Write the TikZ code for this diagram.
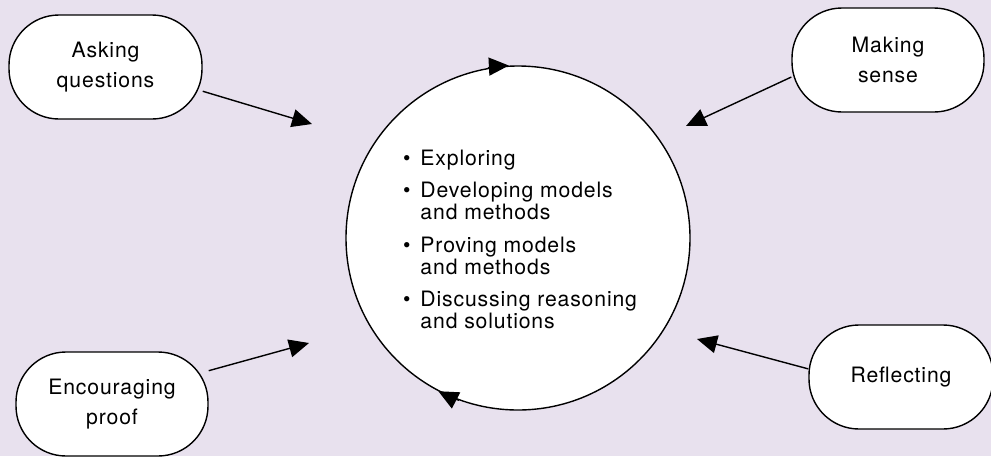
\documentclass[tikz,border=0pt]{standalone}
\usepackage{fontspec}
\setmainfont{TeX Gyre Heros}[LetterSpace = 4]
\usepackage{xcolor}
\usetikzlibrary{calc, arrows.meta}
\definecolor{lavender}{RGB}{232,225,238}

\tikzset{
  stagebox/.style = {draw, fill = white, line width = 0.7pt, rounded corners = 25pt,
    minimum height = 52pt, inner sep = 0pt, align = center,
    font = \fontsize{10.6}{15}\selectfont},
  flow/.style = {-{Triangle[length = 10pt, width = 9pt]}, line width = 0.7pt},
}

\begin{document}
\begin{tikzpicture}[x = 0.5pt, y = -0.5pt]
			\def\cx{518};
			\def\cy{238};
			\def\r{86pt};

			\fill [lavender] (0,0) rectangle (991,456);
			\useasboundingbox (0,0) rectangle (991,456);

			\begin{scope}
				\node (cycle) [circle, draw, fill = white, line width = 0.7pt, minimum size = 2*\r, inner sep = 0pt] at (\cx,\cy) {};
				\node (stages) [anchor = base west, font = \fontsize{10.6}{10.5}\selectfont] at (396,165) {%
					\begin{tabular}[t]{@{}l@{\hspace{5pt}}l@{}}
						\textbullet & Exploring \\[5.5pt]
						\textbullet & Developing models \\
						            & and methods \\[5.5pt]
						\textbullet & Proving models \\
						            & and methods \\[5.5pt]
						\textbullet & Discussing reasoning \\
						            & and solutions
					\end{tabular}};
			\end{scope}

			\begin{scope}[flow]
				\draw (cycle.100) arc [start angle = 100, end angle = 93, radius = \r];
				\draw (cycle.250) arc [start angle = 250, end angle = 242.5, radius = \r];
			\end{scope}

			\begin{scope}
				\node (ask) [stagebox, minimum width = 96.5pt] at (105.5,67) {Asking\\questions};
				\node (sense) [stagebox, minimum width = 96pt] at (888,60) {Making\\sense};
				\node (reflect) [stagebox, minimum width = 92pt] at (901,377) {Reflecting};
				\node (proof) [stagebox, minimum width = 96pt] at (112,404) {Encouraging\\proof};
			\end{scope}

			\coordinate (askEnd) at (312,124);
			\coordinate (senseEnd) at (686,126);
			\coordinate (reflectEnd) at (697,339);
			\coordinate (proofEnd) at (309,343);

			\begin{scope}[flow]
				\draw (ask.-14) -- (askEnd);
				\draw (sense.190.6) -- (senseEnd);
				\draw (reflect.175.6) -- (reflectEnd);
				\draw (proof.19.4) -- (proofEnd);
			\end{scope}
		\end{tikzpicture}
\end{document}
